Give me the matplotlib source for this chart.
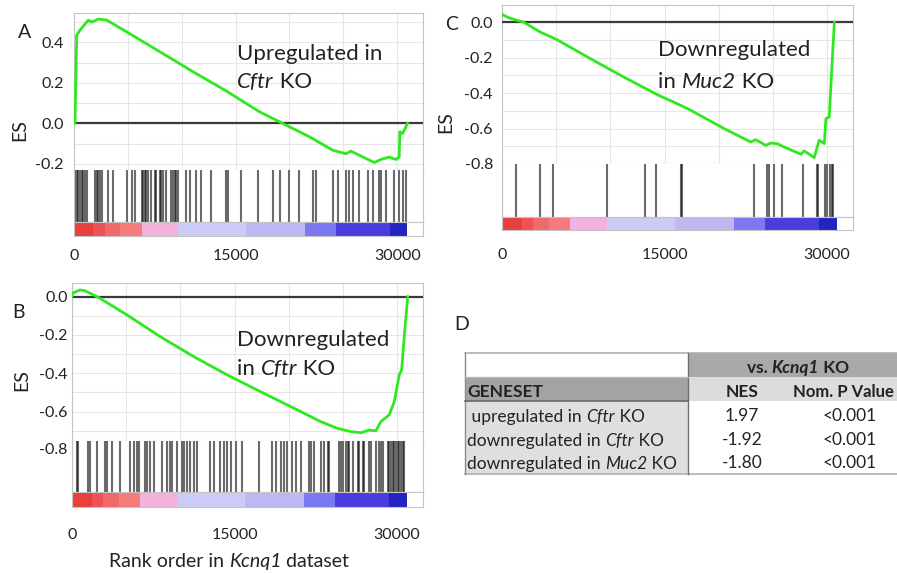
import matplotlib
matplotlib.use('Agg')
import matplotlib.pyplot as plt
import numpy as np
from matplotlib.patches import Rectangle
from matplotlib.transforms import blended_transform_factory

plt.rcParams['font.family'] = ['Lato', 'DejaVu Sans']

# ---------------- data ----------------
XMAX = 32400
rank_ticks = [0, 15000, 30000]

# ranked-list colour bar (rank boundaries and colours)
rank_edges = [0, 1800, 2900, 4300, 6300, 9700, 16000, 21400, 24300, 29300, 30960]
rank_colors = ['#e8403c', '#ec5258', '#f06a6c', '#f47c7c', '#f2b2dc',
               '#cbcbf6', '#bdb7f2', '#7b78f0', '#4b3ce0', '#2424c0']

# Panel A: upregulated in Cftr KO
es_a_rank = [0, 90, 250, 555, 1330, 1640, 2250, 3030, 4880, 7960, 11050, 14140,
             17230, 19380, 21850, 24010, 25250, 25710, 27100, 27880, 28490, 29260,
             29880, 30190, 30250, 30500, 30650, 30960]
es_a_val = [0.0, 0.0, 0.436, 0.46, 0.51, 0.50, 0.515, 0.51, 0.452, 0.354, 0.255, 0.16,
            0.057, 0.0, -0.066, -0.132, -0.15, -0.137, -0.173, -0.193, -0.178, -0.166,
            -0.178, -0.166, -0.041, -0.05, -0.035, 0.0]
hits_a = [93, 247, 402, 556, 710, 865, 1019, 1174, 1945, 2100, 2254, 2408, 2563, 3180,
          3643, 4878, 5341, 5650, 6267, 6422, 6576, 6730, 6885, 7193, 7502, 7656, 7965,
          8119, 8274, 8582, 9045, 9200, 9354, 9509, 9663, 10435, 10743, 11361, 11824,
          12750, 14139, 14293, 15528, 17071, 18461, 19078, 20004, 20930, 22165, 22474,
          24017, 24480, 25252, 25561, 25870, 26487, 27259, 27722, 28339, 28494, 28957,
          29729, 30192, 30501, 30810]

# Panel B: downregulated in Cftr KO
es_b_rank = [0, 60, 740, 1200, 1980, 2590, 5060, 8150, 11240, 14320, 17410, 20490,
             22960, 24500, 25740, 26660, 27430, 28050, 28510, 29280, 29750, 30210,
             30430, 30680, 30990]
es_b_val = [0.0, 0.018, 0.035, 0.03, 0.009, -0.009, -0.095, -0.209, -0.313, -0.408,
            -0.496, -0.582, -0.652, -0.687, -0.704, -0.71, -0.696, -0.70, -0.652,
            -0.617, -0.548, -0.408, -0.382, -0.2, 0.0]
hits_b = [432, 587, 1513, 1667, 2285, 3056, 3211, 3674, 4446, 5372, 5680, 5989, 6143,
          6761, 6915, 7224, 7533, 8304, 8767, 9076, 9230, 9694, 10157, 10311, 10620,
          10928, 11237, 11546, 12781, 13089, 13707, 14015, 14324, 14633, 15096, 15713,
          17257, 18491, 18800, 19263, 19572, 19881, 20344, 20652, 21115, 21887, 22042,
          22350, 22967, 23276, 23585, 23739, 24665, 24820, 24974, 25283, 25437, 25592,
          25900, 26363, 26518, 26826, 26981, 27444, 27598, 28061, 28370, 28524, 28679,
          29142, 29296, 29450, 29605, 29759, 29913, 30068, 30222, 30376, 30530, 30685]

# Panel C: downregulated in Muc2 KO
es_c_rank = [0, 590, 1360, 1980, 3520, 5060, 8150, 11240, 14320, 16480, 17410, 20490,
             22960, 23420, 24350, 24810, 25430, 26040, 27580, 27890, 28820, 29280,
             29750, 29900, 30210, 30370, 30680]
es_c_val = [0.043, 0.025, 0.01, 0.0, -0.056, -0.099, -0.206, -0.31, -0.409, -0.469,
            -0.497, -0.60, -0.676, -0.663, -0.695, -0.682, -0.686, -0.704, -0.745,
            -0.726, -0.764, -0.666, -0.685, -0.544, -0.535, -0.347, 0.0]
hits_c = [31, 1297, 3520, 4693, 9694, 13244, 14170, 16547, 16639, 23276, 24450, 24666,
          25067, 25808, 27752, 29080, 29203, 29851, 30006, 30314, 30438, 30531]

# Panel D table
table_header = [('vs. ', 'bold', 'normal'), ('Kcnq1', 'bold', 'italic'), (' KO', 'bold', 'normal')]
table_cols = ['NES', 'Nom. P Value']
geneset_labels = [
    [(' upregulated in ', 'normal', 'normal'), ('Cftr', 'normal', 'italic'), (' KO', 'normal', 'normal')],
    [('downregulated in ', 'normal', 'normal'), ('Cftr', 'normal', 'italic'), (' KO', 'normal', 'normal')],
    [('downregulated in ', 'normal', 'normal'), ('Muc2', 'normal', 'italic'), (' KO', 'normal', 'normal')],
]
nes_values = [1.97, -1.92, -1.80]
p_values = ['<0.001', '<0.001', '<0.001']

# ---------------- figure ----------------
W, H = 897, 574
fig = plt.figure(figsize=(W / 100, H / 100), dpi=100)
renderer = fig.canvas.get_renderer()
TXT = '#222222'


def add_ax(l, t, r, b):
    return fig.add_axes([l / W, 1 - b / H, (r - l) / W, (b - t) / H])


def rich(px, py, parts, size, ha='left'):
    """Draw mixed-style text; py is the vertical centre (pixels from top)."""
    base = py + 0.36 * size * 100 / 72
    widths = []
    for s, w, st in parts:
        t = fig.text(0, 0, s, fontsize=size, fontweight=w, fontstyle=st)
        widths.append(t.get_window_extent(renderer).width)
        t.remove()
    total = sum(widths)
    x = px - (total / 2 if ha == 'center' else 0)
    for (s, w, st), wd in zip(parts, widths):
        fig.text(x / W, 1 - base / H, s, fontsize=size, fontweight=w, fontstyle=st,
                 ha='left', va='baseline', color=TXT)
        x += wd


GREEN = '#2fe81f'
FRAME = '#c4c4c4'
GRID = '#e6e6e6'


def panel(box, ylim, yticks, ylabels, ranks, es, hits, ypad, xpad, extra_label=None):
    l, t, r, b1, b2, b3 = box
    ax = add_ax(l, t, r, b1)
    axh = add_ax(l, b1, r, b2)
    axc = add_ax(l, b2, r, b3)
    # ES axes
    ax.set_xticks(np.arange(0, XMAX, 5000))
    ax.set_xticklabels([])
    ax.set_yticks(yticks)
    ax.set_yticklabels(ylabels)
    ax.set_yticks(np.arange(-0.8, 0.61, 0.1), minor=True)
    ax.set_xlim(0, XMAX)
    ax.set_ylim(*ylim)
    ax.tick_params(axis='both', which='both', length=0)
    ax.tick_params(axis='y', labelsize=11.5, pad=ypad, labelcolor=TXT)
    ax.grid(True, which='both', color=GRID, lw=0.8)
    ax.set_axisbelow(True)
    for s in ax.spines.values():
        s.set_color(FRAME)
    ax.axhline(0, color='#3a3a3a', lw=1.6, zorder=3)
    ax.plot(ranks, es, color=GREEN, lw=2.0, zorder=4)
    if extra_label is not None:
        tr = blended_transform_factory(ax.transAxes, ax.transData)
        ax.text(-ypad / 72 * 100 / (r - l), extra_label, f'{extra_label:.1f}',
                transform=tr, ha='right', va='center', fontsize=11.5,
                color=TXT, clip_on=False)
    # hits axes
    axh.set_xticks([])
    axh.set_yticks([])
    axh.set_xlim(0, XMAX)
    axh.set_ylim(0, 1)
    for s in axh.spines.values():
        s.set_color(FRAME)
    axh.spines['top'].set_visible(False)
    axh.vlines(hits, 0, 1, color='#101010', alpha=0.62, lw=1.5)
    # colour bar axes
    for i, c in enumerate(rank_colors):
        axc.barh(0.5, rank_edges[i + 1] - rank_edges[i], left=rank_edges[i],
                 height=1.0, color=c, lw=0)
    axc.set_yticks([])
    axc.set_xticks(rank_ticks)
    axc.set_xticklabels([str(v) for v in rank_ticks])
    axc.set_xlim(0, XMAX)
    axc.set_ylim(0, 1)
    axc.tick_params(axis='x', length=0, labelsize=11.5, pad=xpad, labelcolor=TXT)
    for s in axc.spines.values():
        s.set_color(FRAME)
    return ax


# Panel A
panel((74, 13, 423, 170, 222, 236), (-0.23, 0.545), [0.4, 0.2, 0.0, -0.2],
      ['0.4', '0.2', '0.0', '-0.2'], es_a_rank, es_a_val, hits_a, 7.5, 9)
# Panel B
panel((72, 283, 423, 441, 492, 507), (-0.753, 0.071), [0.0, -0.2, -0.4, -0.6],
      ['0.0', '-0.2', '-0.4', '-0.6'], es_b_rank, es_b_val, hits_b, 3, 15,
      extra_label=-0.8)
# Panel C
panel((502, 5, 853, 164, 217, 230), (-0.8, 0.096), [0.0, -0.2, -0.4, -0.6, -0.8],
      ['0.0', '-0.2', '-0.4', '-0.6', '-0.8'], es_c_rank, es_c_val, hits_c, 6.5, 13)


def ftext(px, py, s, **kw):
    return fig.text(px / W, 1 - py / H, s, **kw)


# panel letters and ES labels
for (px, py, s) in [(25, 32, 'A'), (18, 313, 'B'), (452, 25, 'C'), (462, 325, 'D')]:
    ftext(px, py, s, fontsize=14, ha='center', va='center', color=TXT)
for (px, py) in [(20, 130), (22, 380), (446, 122)]:
    ftext(px, py, 'ES', fontsize=14, rotation=90, ha='center', va='center', color=TXT)

# annotations
N, I = 'normal', 'italic'
AS = 16
rich(237, 52, [('Upregulated in', N, N)], AS)
rich(237, 80, [('Cftr', N, I), (' KO', N, N)], AS)
rich(237, 338, [('Downregulated', N, N)], AS)
rich(237, 367, [('in ', N, N), ('Cftr', N, I), (' KO', N, N)], AS)
rich(658, 48, [('Downregulated', N, N)], AS)
rich(658, 80, [('in ', N, N), ('Muc2', N, I), (' KO', N, N)], AS)

rich(229, 560, [('Rank order in ', N, N), ('Kcnq1', N, I), (' dataset', N, N)], 14,
     ha='center')

# ---------------- table (panel D) ----------------
axt = add_ax(465, 353, 897, 474)
axt.set_xlim(465, 897)
axt.set_ylim(474, 353)
axt.axis('off')
x0, xdiv, x1 = 465, 688, 1000
rows = [353, 377, 401, 474]
cells = [
    (x0, rows[0], xdiv - x0, rows[1] - rows[0], 'white'),
    (xdiv, rows[0], x1 - xdiv, rows[1] - rows[0], '#a9a9a9'),
    (x0, rows[1], xdiv - x0, rows[2] - rows[1], '#a3a3a3'),
    (xdiv, rows[1], x1 - xdiv, rows[2] - rows[1], '#dcdcdc'),
    (x0, rows[2], xdiv - x0, rows[3] - rows[2], '#dfdfdf'),
    (xdiv, rows[2], x1 - xdiv, rows[3] - rows[2], 'white'),
]
for (cx, cy, cw, ch, cc) in cells:
    axt.add_patch(Rectangle((cx, cy), cw, ch, facecolor=cc, edgecolor='none',
                            clip_on=False))
lc = '#8a8a8a'
axt.plot([x0, x1], [rows[0], rows[0]], color='#b0b0b0', lw=1.2, clip_on=False)
axt.plot([x0, x1], [rows[3], rows[3]], color='#b0b0b0', lw=1.2, clip_on=False)
axt.plot([x0, x0], [rows[0], rows[3]], color=lc, lw=1.0, clip_on=False)
axt.plot([xdiv, xdiv], [rows[0], rows[3]], color='#707070', lw=1.0, clip_on=False)
axt.plot([x0, xdiv], [rows[1], rows[1]], color='#b8b8b8', lw=1.0, clip_on=False)
axt.plot([x0, xdiv], [rows[2], rows[2]], color='#6a6a6a', lw=1.2, clip_on=False)

TS = 12.5
rich(798, 367, table_header, TS, ha='center')
ftext(467, 392, 'GENESET', fontsize=TS, fontweight='bold', ha='left', va='center', color=TXT)
ftext(742, 392, table_cols[0], fontsize=TS, fontweight='bold', ha='center', va='center', color=TXT)
ftext(793, 392, table_cols[1], fontsize=12, fontweight='bold', ha='left', va='center', color=TXT)
row_y = [416, 440, 463]
for yv, g, n, p in zip(row_y, geneset_labels, nes_values, p_values):
    rich(467, yv, g, TS)
    ftext(742, yv, f'{n:.2f}', fontsize=TS, ha='center', va='center', color=TXT)
    ftext(850, yv, p, fontsize=TS, ha='center', va='center', color=TXT)

fig.savefig('out.png', dpi=100)
